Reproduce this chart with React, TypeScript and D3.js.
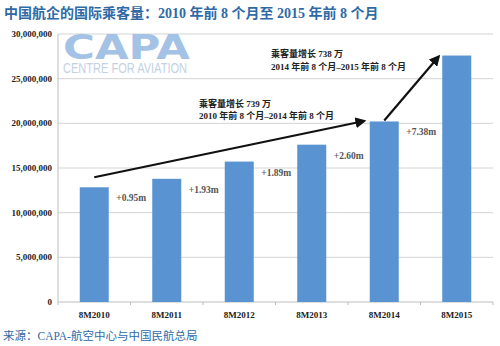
import React from "react";
import * as d3 from "d3";

const categories = ["8M2010", "8M2011", "8M2012", "8M2013", "8M2014", "8M2015"];
const passengers = [12840000, 13790000, 15720000, 17610000, 20210000, 27590000];
const growthLabels = ["+0.95m", "+1.93m", "+1.89m", "+2.60m", "+7.38m"];
const yTicks = [0, 5000000, 10000000, 15000000, 20000000, 25000000, 30000000];
const titleText = "中国航企的国际乘客量：2010 年前 8 个月至 2015 年前 8 个月";
const sourceText = "来源：CAPA-航空中心与中国民航总局";
const note1 = ["乘客量增长 739 万", "2010 年前 8 个月–2014 年前 8 个月"];
const note2 = ["乘客量增长 738 万", "2014 年前 8 个月–2015 年前 8 个月"];

const W = 500, H = 346;
const left = 58, right = 493, top = 34, bottom = 302;
const serif = "'Liberation Serif', 'DejaVu Serif', 'Noto Sans CJK SC', serif";
const cjk = "'Liberation Serif', 'Noto Sans CJK SC', serif";

export default function App() {
  const x = d3.scaleBand<string>().domain(categories).range([left, right]).paddingInner(0.6).paddingOuter(0.3);
  const y = d3.scaleLinear().domain([0, 30000000]).range([bottom, top]);
  const fmt = d3.format(",");
  const step = x.step();
  const cx = (i: number) => (x(categories[i]) as number) + x.bandwidth() / 2;

  return (
    <svg width={W} height={H} style={{ position: "absolute", left: 0, top: 0, background: "#fff" }}>
      <defs>
        <marker id="ah" viewBox="0 0 10 10" refX="8" refY="5" markerWidth="5" markerHeight="5" orient="auto">
          <path d="M0,0 L10,5 L0,10 z" fill="#111" />
        </marker>
      </defs>
      <rect width={W} height={H} fill="#fff" />
      <text x={4} y={18} fontFamily={cjk} fontWeight="bold" fontSize={14} fill="#2f6aa6">{titleText}</text>

      {yTicks.map((t) => (
        <g key={t}>
          {t > 0 && <line x1={left} x2={right} y1={y(t)} y2={y(t)} stroke="#d4d4d4" strokeWidth={1} />}
          <text x={52} y={y(t) + 3} textAnchor="end" fontFamily={serif} fontWeight="bold" fontSize={9} fill="#222">{fmt(t)}</text>
        </g>
      ))}

      {/* CAPA logo */}
      <text x={63} y={59} fontFamily="'DejaVu Sans', sans-serif" fontWeight="bold" fontSize={33} fill="#a3c2e6" textLength={127} lengthAdjust="spacingAndGlyphs">CAPA</text>
      <text x={63} y={73} fontFamily="'Liberation Sans', sans-serif" fontSize={14} fill="#c3d2e3" textLength={124} lengthAdjust="spacingAndGlyphs">CENTRE FOR AVIATION</text>

      <line x1={left} x2={left} y1={top} y2={bottom} stroke="#bdbdbd" />
      <line x1={left} x2={right} y1={bottom} y2={bottom} stroke="#bdbdbd" />
      {d3.range(categories.length + 1).map((i) => (
        <line key={i} x1={left + i * step} x2={left + i * step} y1={bottom} y2={bottom + 3} stroke="#bdbdbd" />
      ))}

      {passengers.map((v, i) => (
        <rect key={i} x={x(categories[i])} y={y(v)} width={x.bandwidth()} height={bottom - y(v)} fill="#5a93d1" />
      ))}

      {categories.map((c, i) => (
        <text key={c} x={cx(i)} y={318} textAnchor="middle" fontFamily={serif} fontWeight="bold" fontSize={9} fill="#222">{c}</text>
      ))}

      {growthLabels.map((g, i) => (
        <text key={g} x={cx(i) + 22} y={y(passengers[i]) + 14} fontFamily={serif} fontWeight="bold" fontSize={9.5} fill="#555">{g}</text>
      ))}

      {/* arrows */}
      <line x1={cx(0)} y1={y(passengers[0]) - 10} x2={cx(4) - 20} y2={y(passengers[4]) - 0.5} stroke="#111" strokeWidth={2.2} markerEnd="url(#ah)" />
      <line x1={cx(4)} y1={y(passengers[4]) - 1} x2={cx(5) - 18} y2={y(passengers[5]) + 1} stroke="#111" strokeWidth={2.2} markerEnd="url(#ah)" />

      <text x={199} y={107} fontFamily={cjk} fontWeight="bold" fontSize={9} fill="#222">{note1[0]}</text>
      <text x={199} y={119} fontFamily={cjk} fontWeight="bold" fontSize={9} fill="#222">{note1[1]}</text>
      <text x={271} y={57} fontFamily={cjk} fontWeight="bold" fontSize={9} fill="#222">{note2[0]}</text>
      <text x={271} y={70} fontFamily={cjk} fontWeight="bold" fontSize={9} fill="#222">{note2[1]}</text>

      <text x={3} y={340} fontFamily={cjk} fontSize={11.5} fill="#2f6aa6">{sourceText}</text>
    </svg>
  );
}
